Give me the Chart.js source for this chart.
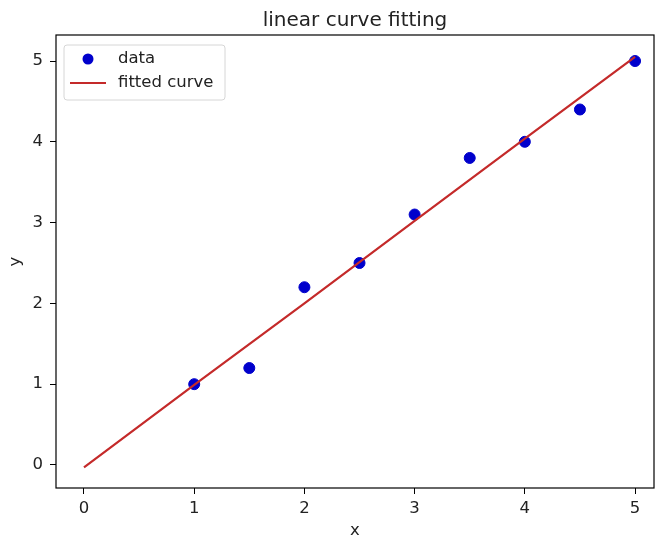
<!DOCTYPE html>
<html>
<head>
<meta charset="utf-8">
<script src="https://cdn.jsdelivr.net/npm/chart.js@4.4.0/dist/chart.umd.min.js"></script>
<style>
  body { margin: 0; background: #fff; }
  canvas { display: block; }
</style>
</head>
<body>
<canvas id="myChart" width="655" height="543"></canvas>
<script>
// data
var data_x = [1, 1.5, 2, 2.5, 3, 3.5, 4, 4.5, 5];
var data_y = [1.0, 1.2, 2.2, 2.5, 3.1, 3.8, 4.0, 4.4, 5.0];
var fit_x = [0, 1, 2, 3, 4, 5];
var fit_y = [-0.03, 0.99, 2.0, 3.02, 4.04, 5.05];
var x_ticks = [0, 1, 2, 3, 4, 5];
var y_ticks = [0, 1, 2, 3, 4, 5];

const FONT = "'DejaVu Sans', sans-serif";

function toPoints(xs, ys){
    let pts = [];
    for (let i = 0; i < xs.length; i++){
        pts.push({x: xs[i], y: ys[i]});
    }
    return pts;
}

// frame round the plot + legend inside the axes (matplotlib look)
const framePlugin = {
    id: 'frame',
    afterDraw(chart){
        const ctx = chart.ctx;
        const a = chart.chartArea;
        ctx.save();
        ctx.strokeStyle = '#000';
        ctx.lineWidth = 1.2;
        ctx.strokeRect(a.left, a.top, a.right - a.left, a.bottom - a.top);

        // legend box
        const bx = a.left + 8, by = a.top + 10, bw = 161, bh = 55;
        ctx.beginPath();
        ctx.roundRect(bx, by, bw, bh, 3);
        ctx.fillStyle = 'rgba(255,255,255,0.8)';
        ctx.fill();
        ctx.strokeStyle = '#d6d6d6';
        ctx.lineWidth = 1;
        ctx.stroke();

        const ds = chart.data.datasets;
        ctx.font = '16.5px ' + FONT;
        ctx.textBaseline = 'middle';
        ctx.textAlign = 'left';
        // row 1: marker
        ctx.beginPath();
        ctx.arc(bx + 24, by + 14, 5.5, 0, Math.PI * 2);
        ctx.fillStyle = ds[0].backgroundColor;
        ctx.fill();
        ctx.fillStyle = '#222';
        ctx.fillText(ds[0].label, bx + 54, by + 14);
        // row 2: line
        ctx.beginPath();
        ctx.moveTo(bx + 6, by + 38);
        ctx.lineTo(bx + 42, by + 38);
        ctx.strokeStyle = ds[1].borderColor;
        ctx.lineWidth = 2.2;
        ctx.stroke();
        ctx.fillStyle = '#222';
        ctx.fillText(ds[1].label, bx + 54, by + 38);
        ctx.restore();
    }
};

const ctx = document.getElementById('myChart');
new Chart(ctx, {
    type: 'scatter',
    data: {
        datasets: [{
            label: 'data',
            data: toPoints(data_x, data_y),
            backgroundColor: '#0000cc',
            borderColor: '#0000cc',
            pointRadius: 5.5,
            pointHoverRadius: 5.5,
            order: 2
        }, {
            label: 'fitted curve',
            data: toPoints(fit_x, fit_y),
            showLine: true,
            borderColor: '#c42a2a',
            backgroundColor: '#c42a2a',
            borderWidth: 2.2,
            pointRadius: 0,
            order: 1
        }]
    },
    options: {
        responsive: false,
        animation: false,
        layout: { autoPadding: false, padding: { left: 2, right: 1, top: 0, bottom: 0 } },
        plugins: {
            legend: { display: false },
            tooltip: { enabled: false },
            title: {
                display: true,
                text: 'linear curve fitting',
                fullSize: false,
                color: '#222',
                font: { family: FONT, size: 20, weight: 'normal' },
                padding: { top: 9, bottom: 2 }
            }
        },
        scales: {
            x: {
                type: 'linear',
                min: -0.254,
                max: 5.172,
                afterBuildTicks: (s) => { s.ticks = x_ticks.map(v => ({value: v})); },
                afterFit: (s) => { s.height = 55; },
                grid: { drawOnChartArea: false, drawTicks: true, tickLength: 6, color: '#000' },
                border: { display: false },
                ticks: { color: '#222', padding: 5, font: { family: FONT, size: 16.5 } },
                title: { display: true, text: 'x', color: '#222', font: { family: FONT, size: 16.5 }, padding: { top: 4, bottom: 2 } }
            },
            y: {
                type: 'linear',
                min: -0.285,
                max: 5.322,
                afterBuildTicks: (s) => { s.ticks = y_ticks.map(v => ({value: v})); },
                afterFit: (s) => { s.width = 54; },
                grid: { drawOnChartArea: false, drawTicks: true, tickLength: 6, color: '#000' },
                border: { display: false },
                ticks: { color: '#222', padding: 7, font: { family: FONT, size: 16.5 } },
                title: { display: true, text: 'y', color: '#222', font: { family: FONT, size: 16.5 }, padding: { top: 4, bottom: 4 } }
            }
        }
    },
    plugins: [framePlugin]
});
</script>
</body>
</html>
